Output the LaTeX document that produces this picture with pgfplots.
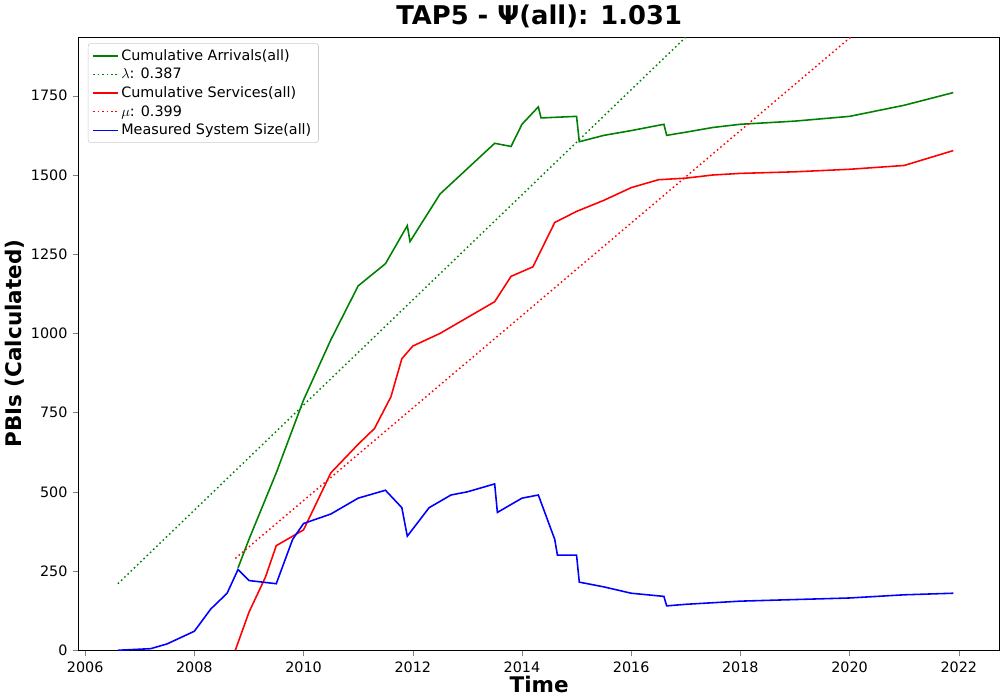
\documentclass[border=0pt]{standalone}
\usepackage{fontspec}
\setmainfont{DejaVu Sans}
\usepackage{pgfplots}
\pgfplotsset{compat=1.18}
\begin{document}
\begin{tikzpicture}
\begin{axis}[width=640bp,height=426bp,scale only axis,
 xmin=2005.88,xmax=2022.75,ymin=0,ymax=1935,
 xtick={2006,2008,...,2022},ytick={0,250,...,1750},
 /pgf/number format/assume math mode=true,
 x tick label style={/pgf/number format/1000 sep={}},
 y tick label style={/pgf/number format/1000 sep={}},
 tick label style={font=\fontsize{10}{12}\selectfont},
 tick align=outside,tick pos=left,
 title={\textbf{TAP5 -  Ψ(all): 1.031}},
 title style={font=\fontsize{18}{20}\selectfont,yshift=-3pt},
 xlabel={\textbf{Time}},ylabel={\textbf{PBIs (Calculated)}},
 label style={font=\fontsize{15}{17}\selectfont},
 xlabel style={yshift=4pt},ylabel style={yshift=-2pt},
 legend pos=north west,legend cell align=left,
 legend style={font=\fontsize{10}{12}\selectfont,draw=black!20,rounded corners=2pt,at={(0.01,0.99)}},
 every axis plot/.append style={line width=1.1pt}]
\addplot[green!50!black,no marks] coordinates {(2008.8,260)(2009,350)(2009.5,560)(2010,790)(2010.5,980)(2011,1150)(2011.5,1220)(2011.9,1340)(2011.95,1290)(2012.5,1440)(2013,1520)(2013.5,1600)(2013.8,1590)(2014,1660)(2014.3,1715)(2014.35,1680)(2015,1685)(2015.05,1605)(2015.5,1625)(2016,1640)(2016.6,1660)(2016.65,1625)(2017,1635)(2017.5,1650)(2018,1660)(2019,1670)(2020,1685)(2021,1720)(2021.9,1760)};
\addlegendentry{Cumulative Arrivals(all)}
\addplot[green!50!black,dotted,no marks,line width=1pt] coordinates {(2006.6,210)(2017.0,1935)};
\addlegendentry{$\lambda$: 0.387}
\addplot[red,no marks] coordinates {(2008.75,0)(2009,120)(2009.3,230)(2009.5,330)(2010,380)(2010.5,560)(2011,650)(2011.3,700)(2011.6,800)(2011.8,920)(2012,960)(2012.5,1000)(2013,1050)(2013.5,1100)(2013.8,1180)(2014.2,1210)(2014.6,1350)(2015,1385)(2015.5,1420)(2016,1460)(2016.5,1485)(2017,1490)(2017.5,1500)(2018,1505)(2019,1510)(2020,1518)(2021,1530)(2021.9,1577)};
\addlegendentry{Cumulative Services(all)}
\addplot[red,dotted,no marks,line width=1pt] coordinates {(2008.75,290)(2020.02,1935)};
\addlegendentry{$\mu$: 0.399}
\addplot[blue,no marks] coordinates {(2006.6,0)(2007.2,5)(2007.5,20)(2008,60)(2008.3,130)(2008.6,180)(2008.8,255)(2009,220)(2009.5,210)(2009.8,350)(2010,400)(2010.5,430)(2011,480)(2011.5,505)(2011.8,450)(2011.9,360)(2012.3,450)(2012.7,490)(2013.0,500)(2013.5,525)(2013.55,435)(2014,480)(2014.3,490)(2014.6,350)(2014.65,300)(2015,300)(2015.05,215)(2015.5,200)(2016,180)(2016.6,170)(2016.65,140)(2017,145)(2017.5,150)(2018,155)(2019,160)(2020,165)(2021,175)(2021.9,180)};
\addlegendentry{Measured System Size(all)}
\end{axis}
\end{tikzpicture}
\end{document}
